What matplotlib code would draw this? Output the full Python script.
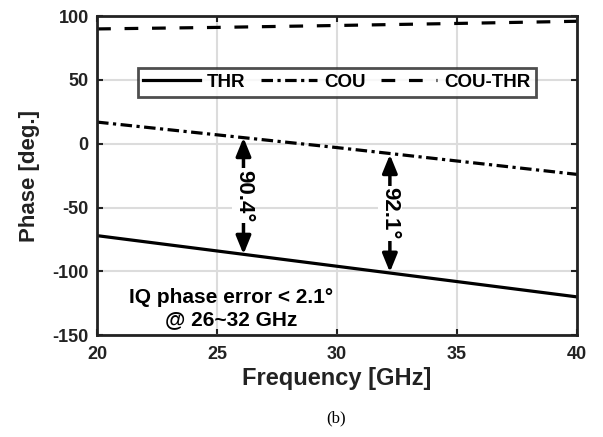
import matplotlib
matplotlib.use('Agg')
import matplotlib.pyplot as plt

plt.rcParams['font.family'] = ['Liberation Sans', 'DejaVu Sans']
plt.rcParams['font.weight'] = 'bold'
plt.rcParams['axes.unicode_minus'] = False

freq = [20, 25, 30, 35, 40]
thr = [-72, -84, -96, -108, -120]
cou = [17, 7, -3, -13.5, -24]
cou_thr = [90, 91.2, 92.7, 94.3, 96]

# annotation positions: (freq, top, bottom, label)
ann_freq = [26.1, 32.2]
ann_top = [4.8, -8.5]
ann_bot = [-86.6, -100.6]
ann_text = ['90.4°', '92.1°']

fig = plt.figure(figsize=(6.03, 4.37), dpi=100)
ax = fig.add_axes([0.161, 0.233, 0.796, 0.730])

ax.plot(freq, thr, color='black', lw=2.3, linestyle='-', label='THR')
ax.plot(freq, cou, color='black', lw=2.3, linestyle=(0, (3.6, 1.4, 1, 1.4)), label='COU')
ax.plot(freq, cou_thr, color='black', lw=2.3, linestyle=(0, (4.3, 4.3)), label='COU-THR')

for f, t, b, s in zip(ann_freq, ann_top, ann_bot, ann_text):
    ax.annotate('', xy=(f, t), xytext=(f, b),
                arrowprops=dict(arrowstyle='<|-|>,head_length=1.1,head_width=0.45',
                                color='black', lw=2.5,
                                mutation_scale=10, shrinkA=0, shrinkB=0))
    ax.text(f, (t + b) / 2, s, rotation=-90, ha='center', va='center',
            fontsize=16, fontweight='bold',
            bbox=dict(facecolor='white', edgecolor='none', pad=1))

ax.text(25.6, -129, 'IQ phase error < 2.1°\n@ 26~32 GHz', ha='center', va='center',
        fontsize=15, fontweight='bold', linespacing=1.25)

ax.set_xlim(20, 40)
ax.set_ylim(-150, 100)
ax.set_xticks([20, 25, 30, 35, 40])
ax.set_yticks([-150, -100, -50, 0, 50, 100])
ax.grid(True, color='#dcdcdc', lw=1.5)
ax.set_axisbelow(True)
for sp in ax.spines.values():
    sp.set_linewidth(2)
    sp.set_color('#222222')
ax.tick_params(labelsize=13, width=1.5, length=4, direction='in', colors='#222222',
               top=True, right=True)
ax.tick_params(axis='x', pad=8)
ax.tick_params(axis='y', pad=6)
for lab in ax.get_xticklabels() + ax.get_yticklabels():
    lab.set_fontweight('bold')
ax.set_xlabel('Frequency [GHz]', fontsize=17, fontweight='bold', color='#222222', labelpad=3)
ax.set_ylabel('Phase [deg.]', fontsize=16, fontweight='bold', color='#222222', labelpad=9)

leg = ax.legend(loc='upper center', bbox_to_anchor=(0.5, 0.837), ncol=3, frameon=True,
                fancybox=False, edgecolor='#222222', fontsize=13.5, handlelength=3.0,
                columnspacing=0.8, handletextpad=0.4, borderpad=0.3, borderaxespad=0)
leg.get_frame().set_linewidth(2)
for t in leg.get_texts():
    t.set_fontweight('bold')

fig.text(0.558, 0.043, '(b)', ha='center', va='center', fontsize=12,
         family='Liberation Serif', fontweight='normal')

fig.savefig('out.png', dpi=100)
